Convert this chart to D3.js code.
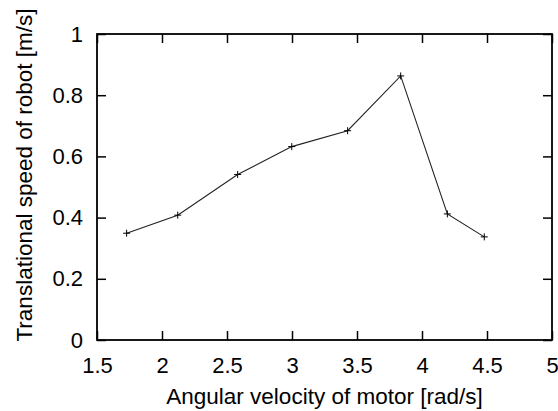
<!DOCTYPE html>
<html>
<head>
<meta charset="utf-8">
<script src="https://cdn.jsdelivr.net/npm/d3@7"></script>
<style>
  body { margin: 0; background: #fff; }
  svg text { font-family: "Liberation Sans", Arial, sans-serif; fill: #000; }
</style>
</head>
<body>
<svg id="chart" width="558" height="411"></svg>
<script>
const angularVelocity = [1.728, 2.121, 2.582, 2.998, 3.428, 3.836, 4.195, 4.479];
const translationalSpeed = [0.349, 0.408, 0.541, 0.632, 0.684, 0.863, 0.412, 0.337];
const xTicks = [1.5, 2, 2.5, 3, 3.5, 4, 4.5, 5];
const yTicks = [0, 0.2, 0.4, 0.6, 0.8, 1];

const width = 558;
const height = 411;
const margin = { top: 34, right: 6, bottom: 71, left: 97 };

const svg = d3.select("#chart");

const data = angularVelocity.map((x, i) => ({ x, y: translationalSpeed[i] }));

const xScale = d3.scaleLinear()
  .domain([1.5, 5])
  .range([margin.left, width - margin.right]);

const yScale = d3.scaleLinear()
  .domain([0, 1])
  .range([height - margin.bottom, margin.top]);

const fmt = d3.format("");
const tickLen = 9;

// axes, ticks pointing inward and mirrored on top/right
const xAxis = d3.axisBottom(xScale).tickValues(xTicks).tickFormat(fmt)
  .tickSizeInner(-tickLen).tickSizeOuter(0).tickPadding(17);
const yAxis = d3.axisLeft(yScale).tickValues(yTicks).tickFormat(fmt)
  .tickSizeInner(-tickLen).tickSizeOuter(0).tickPadding(14);
const xTop = d3.axisTop(xScale).tickValues(xTicks).tickFormat("")
  .tickSizeInner(-tickLen).tickSizeOuter(0);
const yRight = d3.axisRight(yScale).tickValues(yTicks).tickFormat("")
  .tickSizeInner(-tickLen).tickSizeOuter(0);

const gx = svg.append("g")
  .attr("transform", `translate(0, ${height - margin.bottom})`)
  .call(xAxis);
const gy = svg.append("g")
  .attr("transform", `translate(${margin.left}, 0)`)
  .call(yAxis);
const gt = svg.append("g")
  .attr("transform", `translate(0, ${margin.top})`)
  .call(xTop);
const gr = svg.append("g")
  .attr("transform", `translate(${width - margin.right}, 0)`)
  .call(yRight);

[gx, gy, gt, gr].forEach((g) => {
  g.select(".domain").remove();
  g.selectAll("line").attr("stroke", "#000").attr("stroke-width", 1.5);
  g.selectAll("text").attr("font-size", 22).attr("fill", "#000");
});
gx.selectAll("text").attr("dy", "0.71em");

// frame
svg.append("rect")
  .attr("x", margin.left)
  .attr("y", margin.top)
  .attr("width", width - margin.left - margin.right)
  .attr("height", height - margin.top - margin.bottom)
  .attr("fill", "none")
  .attr("stroke", "#000")
  .attr("stroke-width", 1.8);

// line
const line = d3.line().x((d) => xScale(d.x)).y((d) => yScale(d.y));
svg.append("path")
  .datum(data)
  .attr("fill", "none")
  .attr("stroke", "#222")
  .attr("stroke-width", 1.1)
  .attr("d", line);

// plus markers
const m = 3.5;
svg.selectAll(".pt")
  .data(data)
  .enter()
  .append("path")
  .attr("class", "pt")
  .attr("d", (d) => {
    const cx = xScale(d.x), cy = yScale(d.y);
    return `M${cx - m},${cy}H${cx + m}M${cx},${cy - m}V${cy + m}`;
  })
  .attr("stroke", "#000")
  .attr("stroke-width", 1);

// axis titles
svg.append("text")
  .attr("x", (margin.left + width - margin.right) / 2)
  .attr("y", 404)
  .attr("text-anchor", "middle")
  .attr("font-size", 22.5)
  .text("Angular velocity of motor [rad/s]");

svg.append("text")
  .attr("transform", `translate(32, 175) rotate(-90)`)
  .attr("text-anchor", "middle")
  .attr("font-size", 22.5)
  .text("Translational speed of robot [m/s]");
</script>
</body>
</html>
